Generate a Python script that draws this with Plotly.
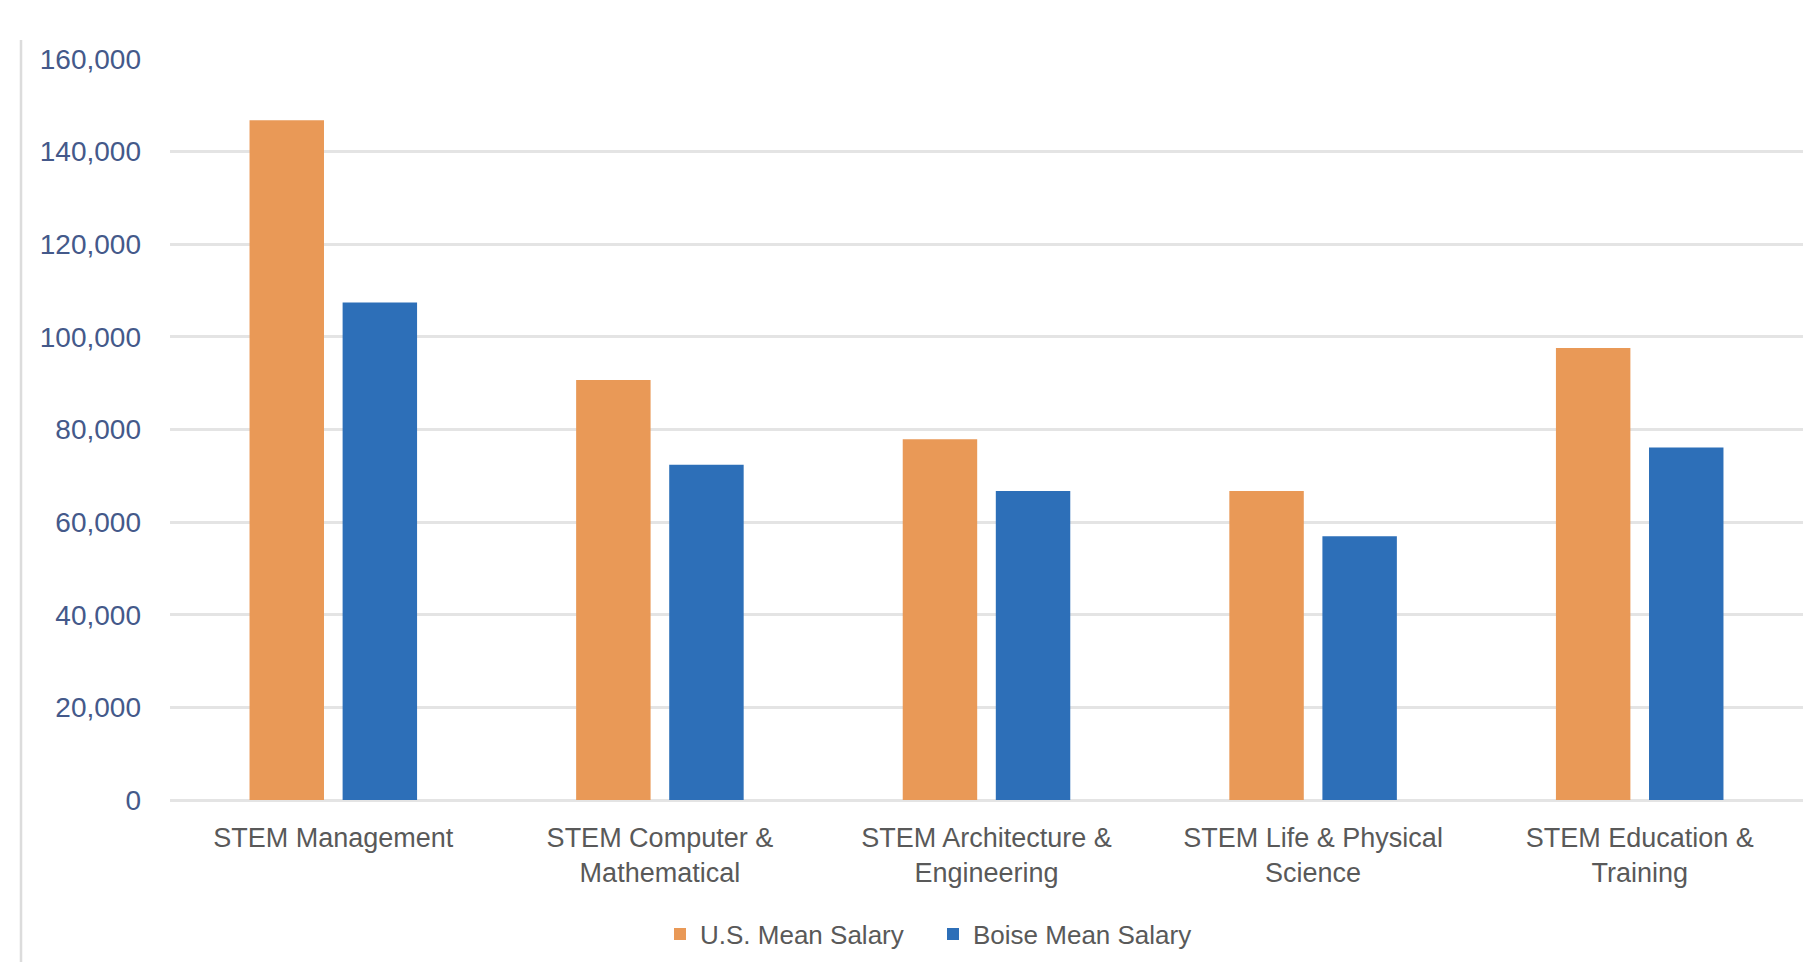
import plotly.graph_objects as go

categories = ["STEM Management", "STEM Computer &<br>Mathematical", "STEM Architecture &<br>Engineering",
              "STEM Life & Physical<br>Science", "STEM Education &<br>Training"]
us_mean = [146800, 90700, 77900, 66700, 97600]
boise_mean = [107400, 72400, 66700, 56950, 76100]
series_names = ["U.S. Mean Salary", "Boise Mean Salary"]

FONT = "Liberation Sans, Arial, sans-serif"

fig = go.Figure()
fig.add_trace(go.Bar(x=categories, y=us_mean, name=series_names[0],
                     marker=dict(color="#E99957", line=dict(width=0))))
fig.add_trace(go.Bar(x=categories, y=boise_mean, name=series_names[1],
                     marker=dict(color="#2D6FB8", line=dict(width=0))))

W, H = 1806, 962
L, R, T, B = 170, 3, 59, 162
pw, ph = W - L - R, H - T - B

fig.update_layout(
    width=W, height=H,
    margin=dict(l=L, r=R, t=T, b=B, pad=0),
    paper_bgcolor="white", plot_bgcolor="white",
    barmode="group", bargap=0.43, bargroupgap=0.2,
    font=dict(family=FONT, color="#595959"),
    showlegend=True,
    legend=dict(orientation="h", x=(933 - L) / pw, xanchor="center",
                y=-(934 - (T + ph)) / ph, yanchor="middle",
                font=dict(size=26, color="#595959", family=FONT),
                itemwidth=30, traceorder="normal", entrywidth=228),
    xaxis=dict(showgrid=False, showline=False, ticks="",
               tickfont=dict(size=27, color="#595959", family=FONT),
               ticklabelstandoff=19),
    yaxis=dict(range=[0, 160000], dtick=20000, tickformat=",",
               showgrid=True, gridcolor="#E4E4E4", gridwidth=2.5,
               zeroline=True, zerolinecolor="#E4E4E4", zerolinewidth=2.5,
               showline=False, ticks="",
               tickfont=dict(size=28, color="#44598A", family=FONT),
               ticklabelstandoff=28),
    shapes=[dict(type="line", xref="paper", yref="paper",
                 x0=(21 - L) / pw, x1=(21 - L) / pw,
                 y0=-(H - (T + ph)) / ph - 0.05, y1=1 + (T - 40) / ph,
                 line=dict(color="#DCDCDC", width=2.5))],
)

fig.write_html("out.html")
